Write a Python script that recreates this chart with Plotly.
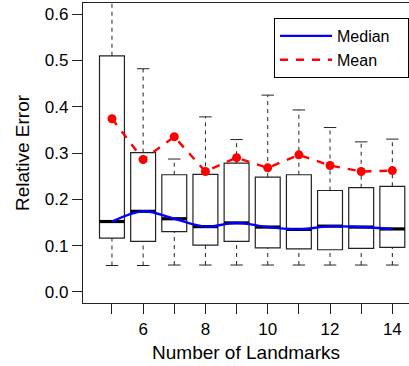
import plotly.graph_objects as go

landmarks = [5, 6, 7, 8, 9, 10, 11, 12, 13, 14]
q1 = [0.116, 0.109, 0.130, 0.101, 0.109, 0.095, 0.093, 0.091, 0.094, 0.096]
median = [0.152, 0.174, 0.158, 0.141, 0.149, 0.140, 0.135, 0.142, 0.140, 0.136]
q3 = [0.510, 0.301, 0.253, 0.254, 0.278, 0.248, 0.253, 0.219, 0.225, 0.228]
whisk_low = [0.057, 0.057, 0.058, 0.058, 0.058, 0.058, 0.058, 0.058, 0.058, 0.058]
whisk_high = [0.66, 0.482, 0.287, 0.378, 0.329, 0.425, 0.393, 0.355, 0.324, 0.330]
mean = [0.374, 0.286, 0.335, 0.260, 0.290, 0.268, 0.296, 0.273, 0.260, 0.262]

x_ticks = list(range(5, 15))
x_ticktext = ["" if v % 2 else str(v) for v in x_ticks]
y_ticks = [0.0, 0.1, 0.2, 0.3, 0.4, 0.5, 0.6]

FONT = "Liberation Sans, Arial, sans-serif"
BOXW = 0.8
CAPW = 0.4
EDGE = "#222222"

fig = go.Figure()

# whiskers (dashed) and caps
wx, wy, cx, cy = [], [], [], []
for x, a, b, lo, hi in zip(landmarks, q1, q3, whisk_low, whisk_high):
    wx += [x, x, None, x, x, None]
    wy += [b, hi, None, lo, a, None]
    cx += [x - CAPW / 2, x + CAPW / 2, None, x - CAPW / 2, x + CAPW / 2, None]
    cy += [hi, hi, None, lo, lo, None]
fig.add_trace(go.Scatter(x=wx, y=wy, mode="lines", showlegend=False, hoverinfo="skip",
                         line=dict(color=EDGE, width=1, dash="4px,4px")))
fig.add_trace(go.Scatter(x=cx, y=cy, mode="lines", showlegend=False, hoverinfo="skip",
                         line=dict(color=EDGE, width=1)))

# boxes
fig.add_trace(go.Box(x=landmarks, q1=q1, median=median, q3=q3,
                     lowerfence=q1, upperfence=q3, width=BOXW,
                     fillcolor="white", line=dict(color=EDGE, width=1.2),
                     whiskerwidth=0, showlegend=False, hoverinfo="skip"))

# thick median bars
mx, my = [], []
for x, m in zip(landmarks, median):
    mx += [x - BOXW / 2, x + BOXW / 2, None]
    my += [m, m, None]
fig.add_trace(go.Scatter(x=mx, y=my, mode="lines", showlegend=False, hoverinfo="skip",
                         line=dict(color="black", width=3.2)))

# median curve
fig.add_trace(go.Scatter(x=landmarks, y=median, mode="lines", name="Median\u00a0\u00a0\u00a0",
                         line=dict(color="#0000ff", width=2.4, shape="spline", smoothing=1)))

# mean line with points
fig.add_trace(go.Scatter(x=landmarks, y=mean, mode="lines+markers", showlegend=False,
                         line=dict(color="#ff0000", width=2.4, dash="8px,8px"),
                         marker=dict(color="#ff0000", size=9)))
fig.add_trace(go.Scatter(x=[None], y=[None], mode="lines", name="Mean",
                         line=dict(color="#ff0000", width=2.4, dash="8px,8px")))

fig.update_layout(
    width=409, height=366,
    margin=dict(l=83, r=0, t=3, b=63),
    paper_bgcolor="white", plot_bgcolor="white",
    font=dict(family=FONT, color="black", size=17),
    legend=dict(x=0.586, y=0.95, xanchor="left", yanchor="top",
                bordercolor="black", borderwidth=1, bgcolor="white",
                font=dict(size=16, family=FONT), tracegroupgap=0,
                itemwidth=52),
    xaxis=dict(range=[4.07, 14.535], tickvals=x_ticks, ticktext=x_ticktext,
               ticks="outside", ticklen=10, tickcolor=EDGE, tickwidth=1,
               showline=True, linecolor=EDGE, linewidth=1.2, mirror=True,
               showgrid=False, zeroline=False, automargin=False,
               tickfont=dict(size=17, family=FONT),
               title=dict(text="Number of Landmarks", font=dict(size=19, family=FONT), standoff=8)),
    yaxis=dict(range=[-0.024, 0.624], tickvals=y_ticks, tickformat=".1f",
               ticks="outside", ticklen=10, tickcolor=EDGE, tickwidth=1,
               showline=True, linecolor=EDGE, linewidth=1.2,
               showgrid=False, zeroline=False, automargin=False,
               tickfont=dict(size=17, family=FONT),
               title=dict(text="Relative Error", font=dict(size=19, family=FONT), standoff=10)),
)

fig.write_html("out.html", config={"displayModeBar": False},
               post_script="document.body.style.margin='0';document.body.style.overflow='hidden';")
